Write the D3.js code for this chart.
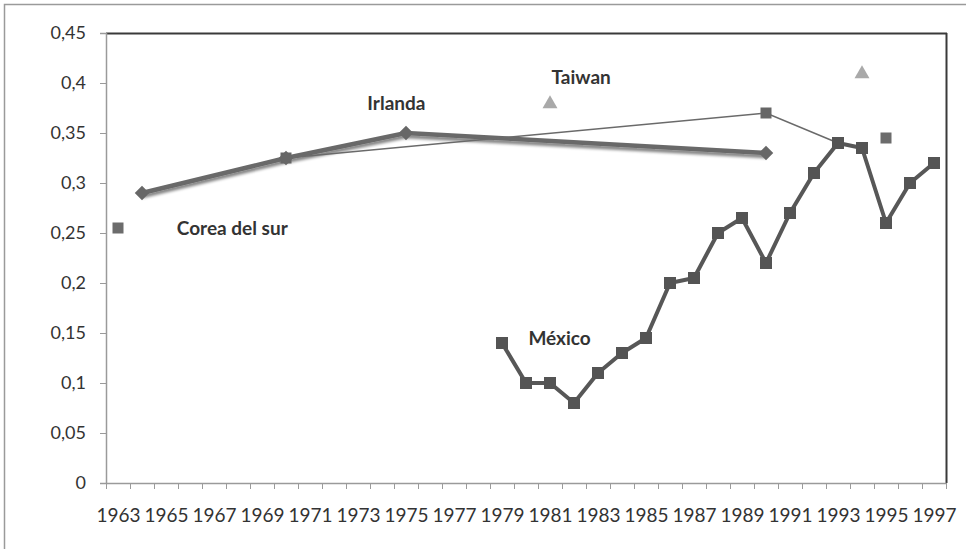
<!DOCTYPE html>
<html>
<head>
<meta charset="utf-8">
<script src="https://cdn.jsdelivr.net/npm/d3@7"></script>
<style>
  html, body { margin: 0; padding: 0; background: #fff; }
  svg { display: block; }
  text { font-family: Lato, "Open Sans", sans-serif; }
</style>
</head>
<body>
<div id="chart"></div>
<script>
// Years and values per series
const mexicoYears  = [1979, 1980, 1981, 1982, 1983, 1984, 1985, 1986, 1987, 1988, 1989, 1990, 1991, 1992, 1993, 1994, 1995, 1996, 1997];
const mexicoValues = [0.14, 0.10, 0.10, 0.08, 0.11, 0.13, 0.145, 0.20, 0.205, 0.25, 0.265, 0.22, 0.27, 0.31, 0.34, 0.335, 0.26, 0.30, 0.32];

const irlandaYears  = [1964, 1970, 1975, 1990];
const irlandaValues = [0.29, 0.325, 0.35, 0.33];

const coreaLineYears  = [1970, 1990, 1993];
const coreaLineValues = [0.325, 0.37, 0.34];

const coreaPointYears  = [1963, 1995];
const coreaPointValues = [0.255, 0.345];

const taiwanYears  = [1981, 1994];
const taiwanValues = [0.38, 0.41];

const yTicks = [0, 0.05, 0.1, 0.15, 0.2, 0.25, 0.3, 0.35, 0.4, 0.45];
const xLabelYears = d3.range(1963, 1998, 2);
const seriesNames = ["Irlanda", "Taiwan", "Corea del sur", "México"];

const W = 966, H = 549;
const margin = { left: 106, right: 20, top: 33, bottom: 66 };

const svg = d3.select("#chart").append("svg")
  .attr("width", W).attr("height", H);

// soft shadow under the Irlanda line
const defs = svg.append("defs");
const f = defs.append("filter").attr("id", "shadow")
  .attr("x", "-5%").attr("y", "-50%").attr("width", "110%").attr("height", "200%");
f.append("feGaussianBlur").attr("in", "SourceAlpha").attr("stdDeviation", 1.8).attr("result", "b");
f.append("feOffset").attr("in", "b").attr("dy", 3).attr("result", "o");
f.append("feComponentTransfer").attr("in", "o").attr("result", "s")
  .append("feFuncA").attr("type", "linear").attr("slope", 0.5);
const fm = f.append("feMerge");
fm.append("feMergeNode").attr("in", "s");
fm.append("feMergeNode").attr("in", "SourceGraphic");

// outer frame
svg.append("rect")
  .attr("x", 4.5).attr("y", 4.5).attr("width", W + 10).attr("height", H + 10)
  .attr("fill", "none").attr("stroke", "#9a9a9a").attr("stroke-width", 1.5);

const x = d3.scaleLinear().domain([1962.5, 1997.5]).range([margin.left, W - margin.right]);
const y = d3.scaleLinear().domain([0, 0.45]).range([H - margin.bottom, margin.top]);

const x0 = x.range()[0], x1 = x.range()[1];
const y0 = y(0), yTop = y(0.45);

// plot frame: dark top and right edges
svg.append("line").attr("x1", x0).attr("x2", x1 + 1).attr("y1", yTop + 0.5).attr("y2", yTop + 0.5)
  .attr("stroke", "#3a3a3a").attr("stroke-width", 2);
svg.append("line").attr("x1", x1 + 0.5).attr("x2", x1 + 0.5).attr("y1", yTop).attr("y2", y0)
  .attr("stroke", "#3a3a3a").attr("stroke-width", 2);

// y axis
const fmtComma = v => v === 0 ? "0" : String(v).replace(".", ",");
const yAxis = d3.axisLeft(y).tickValues(yTicks).tickFormat(fmtComma).tickSize(6).tickPadding(14);
const gy = svg.append("g").attr("transform", `translate(${x0},0)`).call(yAxis);
gy.select(".domain").attr("stroke", "#9a9a9a").attr("stroke-width", 1.5);
gy.selectAll(".tick line").attr("stroke", "#9a9a9a");
gy.selectAll(".tick text").attr("fill", "#333").style("font-size", "18px").style("font-family", "Lato, sans-serif");

// x axis: tick marks at year boundaries, labels on odd years
const xAxisTicks = d3.axisBottom(x).tickValues(d3.range(1962.5, 1998, 1)).tickFormat("").tickSize(6).tickSizeOuter(0);
const gx = svg.append("g").attr("transform", `translate(0,${y0})`).call(xAxisTicks);
gx.select(".domain").attr("stroke", "#9a9a9a").attr("stroke-width", 1.5);
gx.selectAll(".tick line").attr("stroke", "#9a9a9a");

const xAxisLabels = d3.axisBottom(x).tickValues(xLabelYears).tickFormat(d3.format("d")).tickSize(0).tickPadding(26);
const gxl = svg.append("g").attr("transform", `translate(0,${y0})`).call(xAxisLabels);
gxl.select(".domain").remove();
gxl.selectAll(".tick text").attr("fill", "#333").style("font-size", "19px").style("font-family", "Lato, sans-serif");

const line = d3.line().x(d => x(d[0])).y(d => y(d[1]));
const zip = (a, b) => a.map((v, i) => [v, b[i]]);

const mexico = zip(mexicoYears, mexicoValues);
const irlanda = zip(irlandaYears, irlandaValues);
const coreaLine = zip(coreaLineYears, coreaLineValues);
const coreaPts = zip(coreaPointYears, coreaPointValues);
const taiwan = zip(taiwanYears, taiwanValues);

// Irlanda: thick line with shadow
svg.append("path").datum(irlanda).attr("d", line)
  .attr("fill", "none").attr("stroke", "#696969").attr("stroke-width", 4.5)
  .attr("stroke-linejoin", "round").attr("filter", "url(#shadow)");

// Corea del sur: thin connected line
svg.append("path").datum(coreaLine).attr("d", line)
  .attr("fill", "none").attr("stroke", "#6a6a6a").attr("stroke-width", 1.6);
svg.selectAll(".corea-line-pt").data(coreaLine).join("rect")
  .attr("x", d => x(d[0]) - 5.5).attr("y", d => y(d[1]) - 5.5)
  .attr("width", 11).attr("height", 11).attr("fill", "#666");

// Irlanda diamonds
const diamond = d3.symbol().type(d3.symbolDiamond2).size(135);
svg.selectAll(".irl-pt").data(irlanda).join("path")
  .attr("d", diamond)
  .attr("transform", d => `translate(${x(d[0])},${y(d[1])})`)
  .attr("fill", "#676767");

// México line and squares
svg.append("path").datum(mexico).attr("d", line)
  .attr("fill", "none").attr("stroke", "#575757").attr("stroke-width", 4)
  .attr("stroke-linejoin", "round");
svg.selectAll(".mx-pt").data(mexico).join("rect")
  .attr("x", d => x(d[0]) - 6).attr("y", d => y(d[1]) - 6)
  .attr("width", 12).attr("height", 12).attr("fill", "#545454");

// Corea del sur: isolated squares
svg.selectAll(".corea-pt").data(coreaPts).join("rect")
  .attr("x", d => x(d[0]) - 5.5).attr("y", d => y(d[1]) - 5.5)
  .attr("width", 11).attr("height", 11).attr("fill", "#6c6c6c");

// Taiwan triangles
const tri = d3.symbol().type(d3.symbolTriangle2).size(160);
svg.selectAll(".tw-pt").data(taiwan).join("path")
  .attr("d", tri)
  .attr("transform", d => `translate(${x(d[0])},${y(d[1]) + 1})`)
  .attr("fill", "#a9a9a9");

// series name annotations, anchored in data units
const annotations = [
  { name: seriesNames[0], at: [1974.6, 0.373], anchor: "middle" },
  { name: seriesNames[1], at: [1982.3, 0.399], anchor: "middle" },
  { name: seriesNames[2], at: [1965.45, 0.248], anchor: "start" },
  { name: seriesNames[3], at: [1980.1, 0.138], anchor: "start" }
];
svg.selectAll(".series-name").data(annotations).join("text")
  .attr("x", d => x(d.at[0])).attr("y", d => y(d.at[1]))
  .attr("text-anchor", d => d.anchor)
  .attr("fill", "#333")
  .style("font-size", "19px").style("font-weight", "bold")
  .text(d => d.name);
</script>
</body>
</html>
